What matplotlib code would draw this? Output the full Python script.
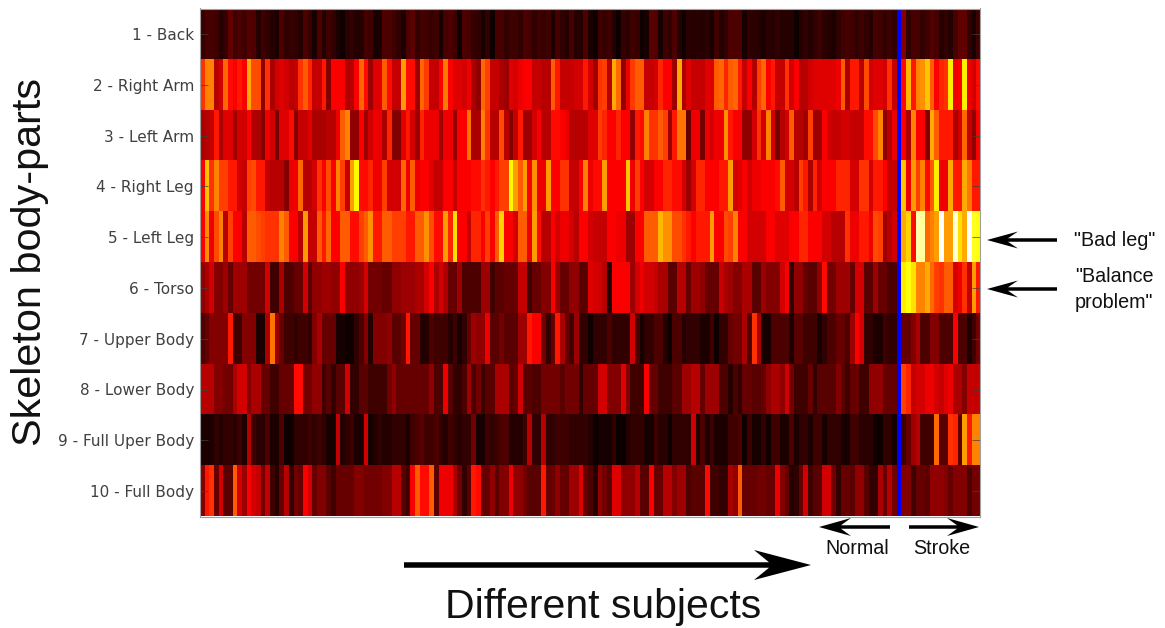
import matplotlib
matplotlib.use('Agg')
import matplotlib.pyplot as plt
import numpy as np
from matplotlib.patches import Polygon

labels = ['1 - Back', '2 - Right Arm', '3 - Left Arm', '4 - Right Leg', '5 - Left Leg',
          '6 - Torso', '7 - Upper Body', '8 - Lower Body', '9 - Full Uper Body', '10 - Full Body']

back = [7,9,9,8,4,7,13,8,10,8, 11,10,4,8,6,4,3,10,6,7, 6,4,10,7,2,10,4,8,6,3,
        1,5,6,4,4,9,8,2,3,10, 10,8,6,3,10,12,6,9,8,7, 8,2,9,10,8,1,10,
        9,7,6,2,6,1,9,9,6,8, 8,6,10,9,6,8,7,8,3,9, 6,4,9,4,4,10,3,1,8,7,
        8,4,1,7,5,8,7,1,2,12, 11,2,8,6,10,4,1,5,4,5, 4,5,2,8,4,6,
        10,10,10,2,6,5,4,3,5,4, 6,4,4,4,1,4,6,4,6,8, 5,4,3,6,8,9,8,6,8,6, 4,9,8,6,8,6]
right_arm = [44,56,56,26,30,52,38,36,40,36, 62,48,48,20,44,24,30,32,30,26, 28,44,50,42,28,28,40,18,36,36,
             36,25,26,36,52,38,22,32,32,50, 38,28,28,60,38,38,22,52,45,28, 28,36,55,36,32,32,30,
             34,24,20,52,46,28,28,24,22,32, 30,34,36,36,28,28,26,26,50,40, 28,28,28,30,30,40,30,22,44,46,
             26,62,52,20,34,45,50,50,28,28, 30,42,36,36,22,62,24,32,28,28, 28,32,32,50,52,42,
             50,52,40,28,36,25,46,52,36,40, 28,28,44,30,36,26,26,30,32,32, 32,32,32,34,50,24,40,40,26,48, 30,32,32,30,44,28]
left_arm = [24,26,28,40,24,32,32,22,30,30, 36,25,24,18,34,30,16,32,32,38, 18,28,28,32,24,24,24,26,26,34,
            50,56,20,20,36,22,30,34,34,24, 42,18,18,32,40,30,22,42,34,34, 34,22,34,34,20,36,36,
            54,24,24,56,44,26,26,48,26,18, 28,40,22,22,30,36,26,26,38,38, 36,34,26,26,26,26,32,32,46,42,
            36,36,42,36,36,20,40,38,56,44, 44,50,46,22,40,54,54,14,34,34, 16,34,30,34,34,58,
            40,36,36,20,20,30,44,30,56,30, 16,26,30,50,26,26,22,46,22,22, 36,30,28,28,30,30,28,28,28,38, 38,48,56,20,26,34]
right_leg = [36,66,44,56,46,46,40,40,30,28, 46,48,40,40,28,26,26,26,18,34, 34,52,26,26,30,44,36,48,36,56,
             46,28,60,74,38,38,42,34,34,46, 30,30,30,52,34,50,34,36,36,32, 28,28,36,36,28,36,36,
             36,38,38,44,40,36,40,46,46,74, 60,50,60,36,58,34,34,60,36,36, 44,44,28,28,36,56,34,38,38,60,
             36,36,36,36,66,34,46,36,30,30, 36,36,42,42,38,38,30,22,30,42, 42,36,36,36,40,40,
             60,30,32,36,30,34,34,36,36,36, 38,50,30,30,26,46,40,24,42,30, 36,36,36,42,42,42,30,30,44,44, 30,40,40,36,28,28]
left_leg = [36,58,34,48,56,26,46,36,36,26, 50,50,48,46,44,44,44,56,50,36, 36,26,60,28,28,50,40,52,36,36,
            50,50,38,38,46,50,58,40,40,50, 50,46,46,46,40,40,50,50,58,48, 38,38,60,42,70,36,36,
            28,42,42,36,46,36,50,68,36,36, 30,50,50,34,60,38,26,26,36,30, 34,34,30,26,36,36,30,28,28,28,
            36,36,34,34,22,22,36,36,50,50, 50,64,58,58,48,48,44,40,36,40, 40,40,60,36,36,48,
            46,56,36,36,30,30,30,30,36,36, 32,32,32,36,36,42,42,36,36,36, 30,30,26,26,26,44,34,34,40,40, 34,48,46,22,26,30]
torso = [20,24,30,18,18,22,14,22,22,22, 16,16,16,16,30,8,8,24,10,10, 14,14,30,12,20,20,22,22,20,20,
         36,20,20,20,22,30,16,16,16,14, 14,20,20,22,22,22,24,24,30,36, 24,30,24,14,14,22,10,
         10,10,10,22,22,8,12,12,14,14, 14,28,28,8,14,14,18,18,36,22, 14,14,20,20,12,12,32,30,30,26,
         4,36,36,36,36,22,30,34,30,30, 28,24,24,12,12,26,26,14,22,22, 20,14,14,14,28,24,
         22,18,18,24,24,12,12,22,18,18, 18,30,36,6,20,20,14,12,12,20, 38,16,16,22,22,22,14,30,30,12, 12,22,14,14,10,10]
upper_body = [10,14,18,18,18,18,40,8,8,18, 18,18,3,3,24,54,22,14,8,8, 6,8,8,6,18,24,14,14,14,2,
              2,1,1,6,10,18,4,18,18,18, 20,12,12,16,40,14,14,4,4,10, 8,8,8,4,8,2,6,
              14,22,20,20,34,12,12,16,12,12, 12,22,22,40,36,36,16,6,14,40, 24,14,8,22,6,6,1,6,6,6,
              10,6,6,6,6,30,10,2,6,6, 10,10,4,1,10,10,4,6,6,6, 3,3,8,1,6,6,
              14,16,16,24,10,44,24,2,2,10, 10,10,10,3,12,12,8,8,8,2, 6,10,10,14,14,10,22,36,30,6, 6,3,3,8,6,6]
lower_body = [26,26,26,18,18,16,16,24,30,30, 18,24,24,14,14,8,8,14,14,14, 38,38,16,16,20,20,8,12,6,12,
              12,30,6,6,12,12,8,8,8,8, 16,20,14,14,14,14,14,14,14,20, 10,10,34,12,6,6,10,
              22,10,16,8,12,12,24,24,24,12, 14,30,12,12,10,10,16,16,16,16, 12,16,16,16,6,14,14,14,30,30,
              18,18,18,32,18,8,8,8,36,14, 14,8,8,8,12,12,22,22,26,26, 14,22,22,22,10,10,
              4,10,6,14,14,12,12,14,20,24, 24,20,30,16,8,8,8,14,6,12, 12,12,12,18,12,8,14,14,8,8, 20,20,20,14,14,14]
full_upper = [3,3,3,6,4,6,6,5,8,3, 26,8,5,5,10,3,3,10,1,1, 6,6,6,8,6,8,6,2,2,28,
              4,6,8,3,3,30,2,4,6,4, 4,6,6,6,3,8,10,12,8,8, 10,6,4,8,6,4,6,
              6,16,2,2,8,6,8,10,10,4, 4,4,8,26,6,6,26,6,6,8, 8,8,6,6,6,6,4,0,2,2,
              2,6,0,0,4,6,6,6,2,2, 8,5,5,1,6,6,6,6,30,4, 10,3,8,3,3,3,
              8,8,10,1,8,2,2,6,1,8, 8,3,3,10,3,6,6,3,8,8, 2,6,6,6,2,2,8,8,5,5, 5,1,1,6,6,2]
full_body = [18,40,44,14,30,12,12,50,30,22, 36,30,28,16,28,8,4,14,26,6, 16,14,36,30,14,18,18,12,8,14,
             14,14,14,18,18,16,16,16,16,18, 18,26,26,12,8,36,50,38,38,50, 12,34,34,34,24,16,6,
             12,40,38,14,14,20,12,18,18,34, 20,20,16,12,12,12,40,14,14,20, 14,14,22,22,32,14,10,4,20,16,
             12,32,32,20,20,20,26,12,12,36, 14,14,26,26,18,22,22,10,12,12, 12,38,8,8,6,6,
             24,20,50,14,14,14,16,16,14,14, 34,18,14,4,6,14,30,8,12,12, 30,30,16,6,14,14,12,20,20,12, 6,6,24,14,26,16]

# stroke subjects, right of the blue line
back_s = [18,6,9,9,6,8,11,9,4,6,4,9,13,13,6,3,8]
right_arm_s = [38,64,40,56,58,66,50,36,42,44,72,34,36,72,34,30,38]
left_arm_s = [36,24,56,36,36,18,62,50,40,40,40,24,30,52,28,20,36]
right_leg_s = [66,34,60,46,56,38,50,72,34,34,62,40,40,62,54,40,40]
left_leg_s = [62,68,38,92,90,52,56,60,100,60,60,96,70,62,100,78,76]
torso_s = [72,76,70,56,56,62,52,46,44,50,50,30,34,44,28,60,40]
upper_body_s = [14,14,18,24,10,10,18,18,10,10,10,36,10,10,3,8,16]
lower_body_s = [46,42,28,30,30,34,34,30,28,32,34,24,24,18,28,28,28]
full_upper_s = [8,14,22,26,8,8,8,52,12,12,44,42,12,60,40,56,56]
full_body_s = [18,18,8,14,14,12,20,20,20,18,14,18,18,18,10,16,16]

normal = [back, right_arm, left_arm, right_leg, left_leg, torso, upper_body, lower_body, full_upper, full_body]
stroke = [back_s, right_arm_s, left_arm_s, right_leg_s, left_leg_s, torso_s, upper_body_s, lower_body_s, full_upper_s, full_body_s]

# blue separator is just a nan column
data = np.array([n + [np.nan] + s for n, s in zip(normal, stroke)], dtype=float)

W, H = 1165, 628
fig = plt.figure(figsize=(W / 100, H / 100), dpi=100)
ax = fig.add_axes([199.5 / W, 1 - 516.5 / H, 780.5 / W, 508 / H])

cmap = plt.get_cmap('hot').copy()
cmap.set_bad('#0000ff')
ax.imshow(data, cmap=cmap, vmin=0, vmax=100, aspect='auto', interpolation='nearest')

ax.set_xticks([])
ax.set_yticks(range(len(labels)))
ax.set_yticklabels(labels, fontsize=11, color='#404040', family='DejaVu Sans')
ax.tick_params(axis='y', direction='in', left=True, right=True, length=6, width=0.5, color='#404040', pad=4)
for s in ax.spines.values():
    s.set_color('#a0a0a0')
    s.set_linewidth(0.8)

# overlay in pixel coords for the hand drawn arrows and text
ov = fig.add_axes([0, 0, 1, 1])
ov.set_xlim(0, W)
ov.set_ylim(H, 0)
ov.axis('off')
ov.patch.set_alpha(0)


def arrow(tail, tip, y, thick, head, notch, half):
    d = 1 if tip > tail else -1
    pts = [(tail, y - thick / 2), (tip - d * notch, y - thick / 2), (tip - d * head, y - half), (tip, y),
           (tip - d * head, y + half), (tip - d * notch, y + thick / 2), (tail, y + thick / 2)]
    ov.add_patch(Polygon(pts, closed=True, facecolor='black', edgecolor='none'))


arrow(404, 811, 565, 5.5, 57, 42, 15)
arrow(890, 819, 527, 3.5, 32, 22, 9)
arrow(909, 979, 527, 3.5, 32, 22, 9)
arrow(1057, 987, 240, 3.5, 31, 21, 8.5)
arrow(1057, 987, 289, 3.5, 31, 21, 8.5)

txt = dict(family='Liberation Sans', color='#111111')
ov.text(857, 548, 'Normal', ha='center', va='center', fontsize=14.2, **txt)
ov.text(942, 548, 'Stroke', ha='center', va='center', fontsize=14.2, **txt)
ov.text(1074, 241, '"Bad leg"', ha='left', va='center', fontsize=14.2, **txt)
ov.text(1075, 277, '"Balance', ha='left', va='center', fontsize=14.2, **txt)
ov.text(1075, 302, 'problem"', ha='left', va='center', fontsize=14.2, **txt)
ov.text(603, 607, 'Different subjects', ha='center', va='center', fontsize=29.5, **txt)
ov.text(30, 262, 'Skeleton body-parts', ha='center', va='center', rotation=90, fontsize=29.8, **txt)

fig.savefig('out.png', dpi=100)
